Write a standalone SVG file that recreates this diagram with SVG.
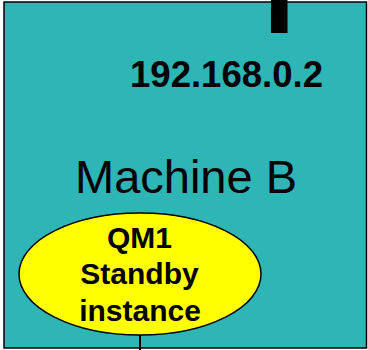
<svg xmlns="http://www.w3.org/2000/svg" width="368" height="350" viewBox="0 0 368 350">
<style>
.b{font-family:"Liberation Sans",Arial,sans-serif;font-weight:bold;fill:#000}
.r{font-family:"Liberation Sans",Arial,sans-serif;fill:#000}
</style>
<g id="machineB">
<rect x="4" y="2" width="362.5" height="346" fill="#2EB5B5" stroke="#000" stroke-width="1.5"/>
<rect x="271" y="0" width="16.5" height="33" fill="#000"/>
<text class="b" x="130" y="87" font-size="37" textLength="193" lengthAdjust="spacingAndGlyphs">192.168.0.2</text>
<text class="r" x="75" y="193" font-size="47" textLength="222" lengthAdjust="spacingAndGlyphs">Machine B</text>
</g>
<g id="connectors">
<line x1="140" y1="335" x2="140" y2="350" stroke="#000" stroke-width="2"/>
</g>
<g id="qm1">
<ellipse cx="140" cy="274" rx="121" ry="61" fill="#FFFF00" stroke="#000" stroke-width="1.5"/>
<text class="b" font-size="30" text-anchor="middle"><tspan x="139.5" y="248">QM1</tspan><tspan x="139.5" y="284">Standby</tspan><tspan x="140" y="321">instance</tspan></text>
</g>
</svg>
